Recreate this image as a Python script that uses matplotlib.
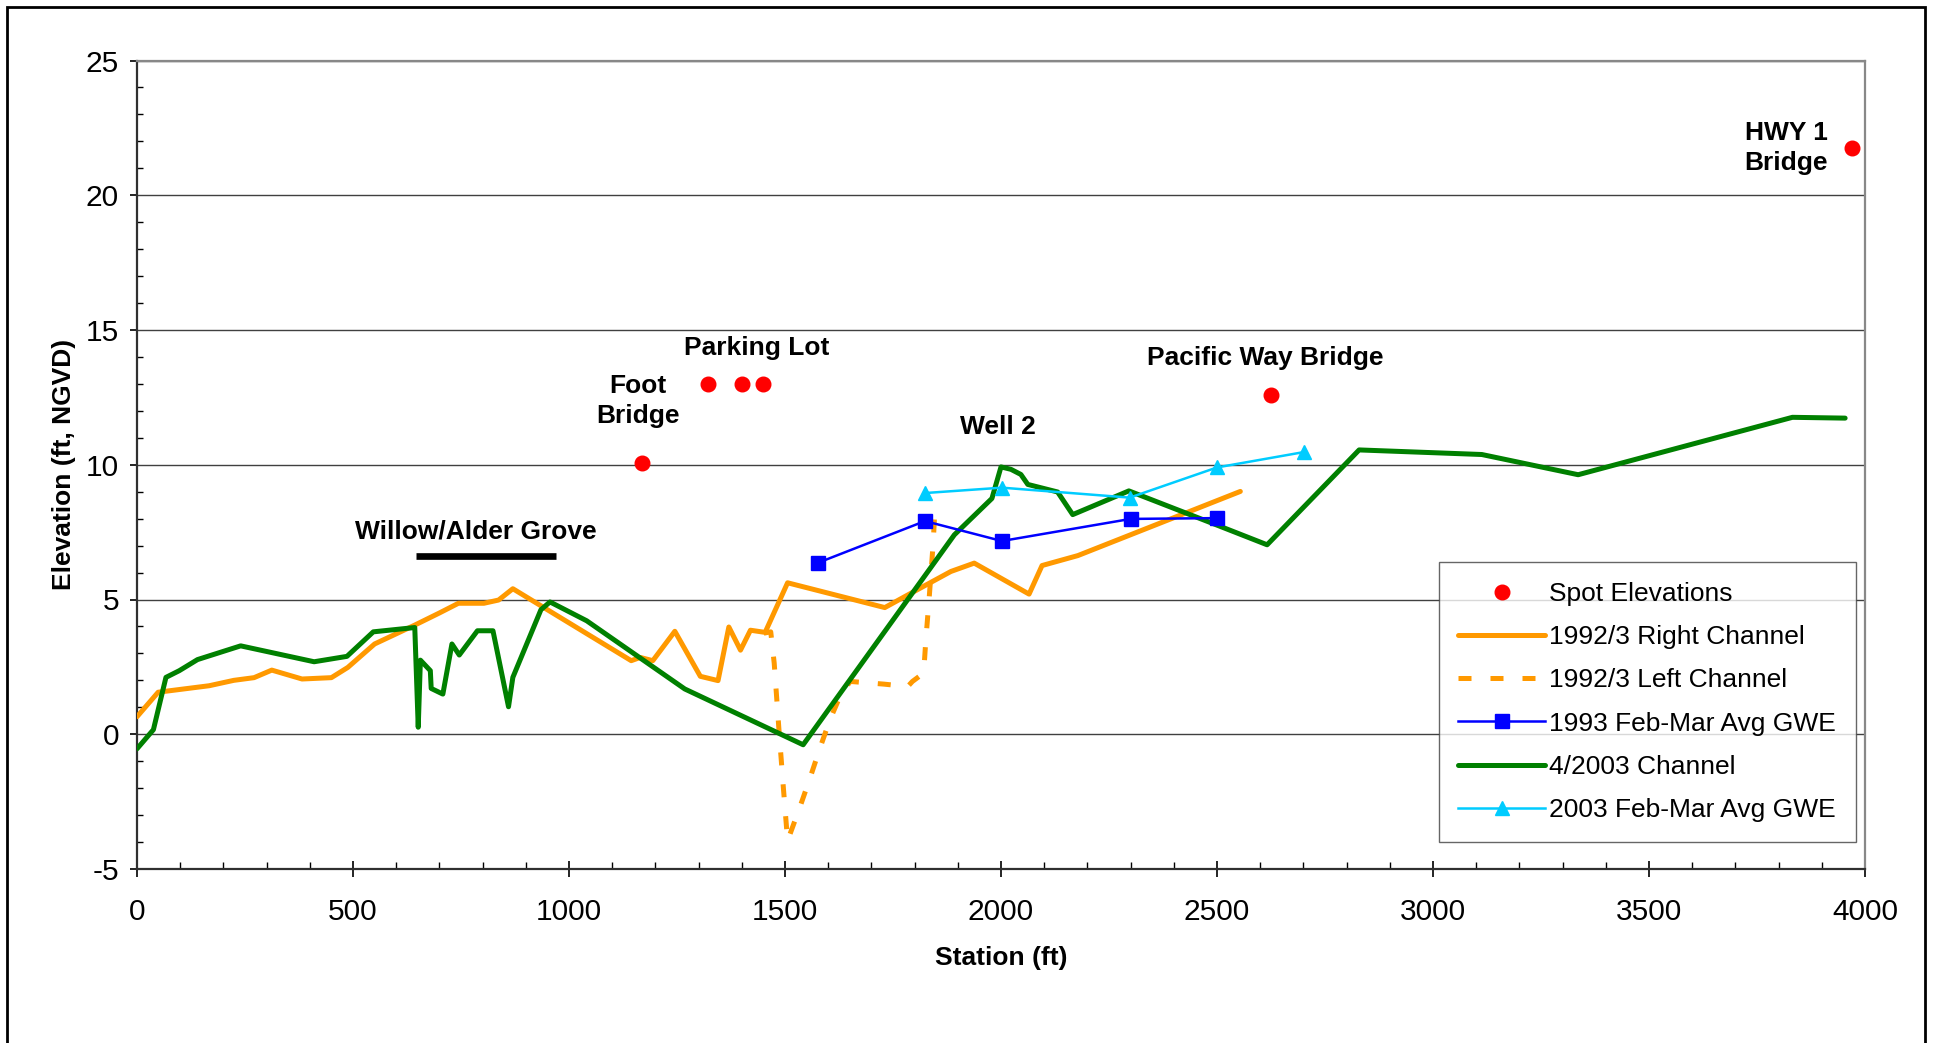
import matplotlib
matplotlib.use("Agg")
import matplotlib.pyplot as plt
from matplotlib.patches import Rectangle

plt.rcParams['font.family'] = ['Liberation Sans', 'DejaVu Sans']
plt.rcParams['axes.unicode_minus'] = False

# spot elevations (bridges, parking lot)
spot_x = [1168, 1322, 1400, 1449, 2626, 3969]
spot_y = [10.07, 13.0, 13.0, 13.0, 12.6, 21.75]

# 1992/3 survey, right channel
right_x = [0, 49, 167, 224, 271, 312, 382, 450, 488, 550, 643, 700, 744, 803, 837, 870,
           948, 1144, 1165, 1194, 1245, 1304, 1345, 1370, 1397, 1420, 1454, 1506, 1731,
           1798, 1884, 1938, 2065, 2095, 2178, 2554]
right_y = [0.65, 1.56, 1.8, 2.0, 2.1, 2.38, 2.05, 2.1, 2.48, 3.35, 4.05, 4.5, 4.86, 4.86,
           4.98, 5.4, 4.64, 2.73, 2.85, 2.73, 3.82, 2.15, 1.99, 3.98, 3.12, 3.86, 3.78,
           5.62, 4.7, 5.29, 6.04, 6.35, 5.2, 6.26, 6.63, 9.01]

# 1992/3 survey, left channel
left_x = [1451, 1467, 1475, 1486, 1496, 1506, 1535, 1558, 1581, 1604, 1629, 1651, 1729,
          1784, 1795, 1821, 1826, 1834, 1843, 1846, 1870]
left_y = [3.75, 3.8, 2.64, 0.17, -1.94, -3.95, -2.68, -1.62, -0.51, 0.54, 1.47, 1.96,
          1.86, 1.77, 1.96, 2.27, 3.5, 5.11, 7.09, 8.02, 8.02]

# 1993 Feb-Mar average groundwater elevation
gwe93_x = [1576, 1824, 2002, 2300, 2500]
gwe93_y = [6.36, 7.91, 7.17, 7.99, 8.02]

# 4/2003 channel survey
ch03_x = [0, 38, 67, 98, 140, 240, 410, 486, 547, 643, 651, 656, 679, 681, 708, 729, 746,
          788, 824, 860, 870, 935, 956, 1041, 1268, 1542, 1892, 1979, 2000, 2023, 2046,
          2062, 2131, 2166, 2296, 2500, 2616, 2829, 3113, 3336, 3832, 3954]
ch03_y = [-0.54, 0.17, 2.11, 2.36, 2.77, 3.28, 2.69, 2.89, 3.8, 3.96, 0.26, 2.75, 2.36,
          1.7, 1.49, 3.35, 2.94, 3.84, 3.84, 1.02, 2.11, 4.62, 4.91, 4.21, 1.68, -0.39,
          7.4, 8.75, 9.92, 9.83, 9.64, 9.27, 8.99, 8.15, 9.03, 7.76, 7.03, 10.55, 10.38,
          9.63, 11.76, 11.73]

# 2003 Feb-Mar average groundwater elevation
gwe03_x = [1824, 2002, 2298, 2500, 2701]
gwe03_y = [8.95, 9.15, 8.78, 9.9, 10.47]

grove_x = [645, 969]
grove_y = [6.6, 6.6]

fig = plt.figure(figsize=(19.35, 10.43), dpi=100)
ax = fig.add_axes([137 / 1935, 1 - 869 / 1043, 1728 / 1935, 808.5 / 1043])

orange = '#FF9900'
ax.plot(spot_x, spot_y, 'o', color='#FF0000', markersize=10.5, ls='none',
        label='Spot Elevations', zorder=5)
ax.plot(right_x, right_y, color=orange, lw=3.6, label='1992/3 Right Channel',
        solid_capstyle='round', zorder=3)
ax.plot(left_x, left_y, color=orange, lw=3.6, ls=(0, (2.6, 3.8)),
        label='1992/3 Left Channel', zorder=3)
ax.plot(gwe93_x, gwe93_y, color='#0000FF', lw=1.8, marker='s', markersize=9.5,
        label='1993 Feb-Mar Avg GWE', zorder=4)
ax.plot(ch03_x, ch03_y, color='#008000', lw=3.6, label='4/2003 Channel',
        solid_capstyle='round', zorder=3)
ax.plot(gwe03_x, gwe03_y, color='#00CCFF', lw=1.8, marker='^', markersize=10,
        label='2003 Feb-Mar Avg GWE', zorder=4)

ax.plot(grove_x, grove_y, color='black', lw=4.8, solid_capstyle='butt')

bold = dict(fontsize=19, fontweight='bold', ha='center', va='center', linespacing=1.35)
ax.text(785, 7.54, 'Willow/Alder Grove', **bold)
ax.text(1159, 12.37, 'Foot\nBridge', **bold)
ax.text(1435, 14.34, 'Parking Lot', **bold)
ax.text(1993, 11.41, 'Well 2', **bold)
ax.text(2611, 13.97, 'Pacific Way Bridge', **bold)
ax.text(3818, 21.75, 'HWY 1\nBridge', **bold)

ax.set_xlim(0, 4000)
ax.set_ylim(-5, 25)
ax.set_xticks(range(0, 4001, 500))
ax.set_xticks(range(0, 4001, 100), minor=True)
ax.set_yticks(range(-5, 26, 5))
ax.set_yticks(range(-5, 26, 1), minor=True)
ax.yaxis.grid(True, which='major', color='#404040', lw=1.0)
ax.set_axisbelow(True)

ax.tick_params(axis='x', which='major', direction='inout', length=12, width=1.2,
               labelsize=21.5, pad=15)
ax.tick_params(axis='x', which='minor', direction='in', length=5, width=1.0)
ax.tick_params(axis='y', which='major', direction='out', length=5, width=1.2,
               labelsize=21.5, pad=8)
ax.tick_params(axis='y', which='minor', direction='in', length=4.5, width=1.0)

for side in ('left', 'bottom'):
    ax.spines[side].set_color('#303030')
    ax.spines[side].set_linewidth(1.6)
for side in ('top', 'right'):
    ax.spines[side].set_color('#888888')
    ax.spines[side].set_linewidth(1.6)

ax.set_xlabel('Station (ft)', fontsize=19, fontweight='bold', labelpad=14)
ax.set_ylabel('Elevation (ft, NGVD)', fontsize=19, fontweight='bold', labelpad=7)

leg = ax.legend(loc='lower right', bbox_to_anchor=(0.9948, 0.0334), borderaxespad=0,
                fontsize=19, frameon=True, fancybox=False, edgecolor='#404040',
                handlelength=3.3, handletextpad=0.15, labelspacing=0.73,
                borderpad=0.75, numpoints=1)
leg.get_frame().set_linewidth(1.0)

# outer frame around the whole chart
fig.patches.append(Rectangle((7 / 1935, -0.02), 1918 / 1935, 1.02 - 7 / 1043,
                             transform=fig.transFigure, fill=False, ec='black',
                             lw=2.0, zorder=10))

fig.savefig('out.png', dpi=100)
